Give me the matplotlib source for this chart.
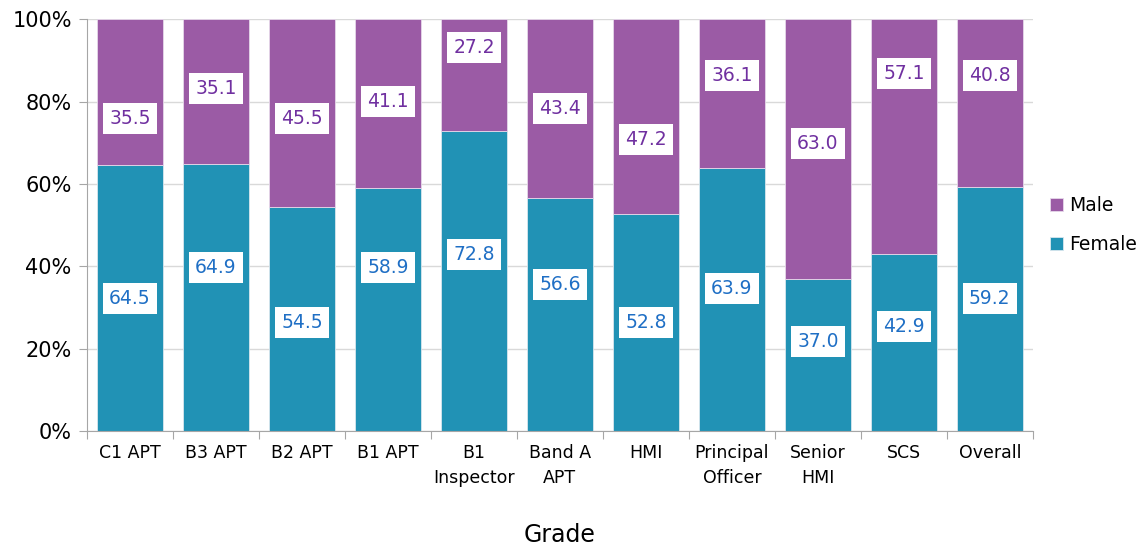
import numpy as np
import matplotlib
matplotlib.use("Agg")
import matplotlib.pyplot as plt

grades = ["C1 APT", "B3 APT", "B2 APT", "B1 APT", "B1\nInspector", "Band A\nAPT",
          "HMI", "Principal\nOfficer", "Senior\nHMI", "SCS", "Overall"]
female = [64.5, 64.9, 54.5, 58.9, 72.8, 56.6, 52.8, 63.9, 37.0, 42.9, 59.2]
male = [35.5, 35.1, 45.5, 41.1, 27.2, 43.4, 47.2, 36.1, 63.0, 57.1, 40.8]

# label heights (in %), as placed in the original chart
female_lab_y = [32.2, 39.7, 26.4, 39.7, 42.9, 35.6, 26.4, 34.6, 21.8, 25.4, 32.2]
male_lab_y = [75.8, 83.1, 75.8, 79.9, 93.0, 78.2, 70.7, 86.4, 69.7, 86.7, 86.4]

C_FEM = "#2192B5"
C_MAL = "#9B5BA5"
T_FEM = "#1F6FC5"
T_MAL = "#7030A0"

plt.rcParams["font.family"] = ["DejaVu Sans"]

fig = plt.figure(figsize=(11.45, 5.47), dpi=100)
ax = fig.add_axes([0.076, 0.212, 0.826, 0.753])

x = np.arange(len(grades))
ax.bar(x, female, width=0.77, color=C_FEM, edgecolor="#D8E6EE", linewidth=0.6,
       label="Female", zorder=2)
ax.bar(x, male, width=0.77, bottom=female, color=C_MAL, edgecolor="#E6D8EA",
       linewidth=0.6, label="Male", zorder=2)

box = dict(boxstyle="square,pad=0.32", fc="white", ec="none")
for i in range(len(grades)):
    ax.text(x[i], female_lab_y[i], f"{female[i]:.1f}", ha="center", va="center",
            color=T_FEM, fontsize=13.5, bbox=box, zorder=3)
    ax.text(x[i], male_lab_y[i], f"{male[i]:.1f}", ha="center", va="center",
            color=T_MAL, fontsize=13.5, bbox=box, zorder=3)

ax.set_xlim(-0.5, len(grades) - 0.5)
ax.set_ylim(0, 100)
ax.set_yticks(np.arange(0, 101, 20))
ax.set_yticklabels([f"{v}%" for v in range(0, 101, 20)], fontsize=15)
ax.yaxis.grid(True, color="#D9D9D9", lw=1, zorder=0)
ax.set_axisbelow(True)

ax.set_xticks(np.arange(-0.5, len(grades), 1), minor=False)
ax.set_xticklabels([])
ax.set_xticks(x, minor=True)
ax.set_xticklabels(grades, minor=True, fontsize=12.5, linespacing=1.55)
ax.tick_params(axis="x", which="major", length=6, color="#A6A6A6")
ax.tick_params(axis="x", which="minor", length=0, pad=9)
ax.tick_params(axis="y", length=6, color="#A6A6A6", pad=5)

for s in ("top", "right"):
    ax.spines[s].set_visible(False)
for s in ("left", "bottom"):
    ax.spines[s].set_color("#A6A6A6")

ax.set_xlabel("Grade", fontsize=17, labelpad=26)

h, l = ax.get_legend_handles_labels()
ax.legend(h[::-1], l[::-1], loc="center left", bbox_to_anchor=(1.0, 0.5),
          frameon=False, fontsize=13.5, handlelength=0.7, handleheight=0.7,
          handletextpad=0.35, labelspacing=1.05)

fig.savefig("out.png", dpi=100)
